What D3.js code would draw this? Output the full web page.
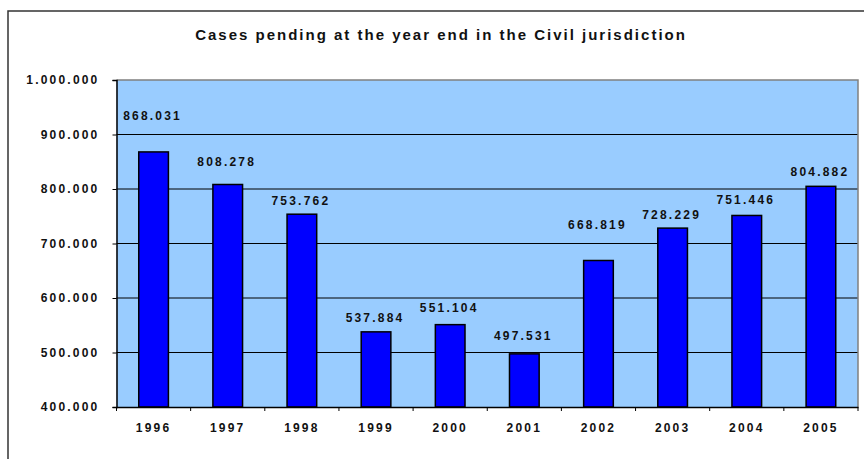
<!DOCTYPE html>
<html>
<head>
<meta charset="utf-8">
<script src="https://cdn.jsdelivr.net/npm/d3@7"></script>
<style>
  body { margin: 0; background: #fff; }
  svg { display: block; font-family: "Liberation Sans", Arial, sans-serif; font-weight: bold; }
</style>
</head>
<body>
<svg width="864" height="459"></svg>
<script>
var title = "Cases pending at the year end in the Civil jurisdiction";
var years = ["1996", "1997", "1998", "1999", "2000", "2001", "2002", "2003", "2004", "2005"];
var pending = [868031, 808278, 753762, 537884, 551104, 497531, 668819, 728229, 751446, 804882];
var yTicks = [400000, 500000, 600000, 700000, 800000, 900000, 1000000];

var svg = d3.select("svg"),
    width = +svg.attr("width"),
    height = +svg.attr("height");

// plot area, in page pixels
var pL = 116.5, pR = 858, pT = 80, pB = 407;

// Excel had the value labels dragged around by hand; lift above bar top
var labelLift = [36, 23, 13, 14, 17, 18, 36, 13, 15.5, 14.5];

var fmt = function(v) { return d3.format(",")(v).replace(/,/g, "."); };

var x = d3.scaleBand().domain(years).range([pL, pR]).paddingInner(0.6).paddingOuter(0.3);
var y = d3.scaleLinear().domain([400000, 1000000]).range([pB, pT]);

// outer chart frame (runs off the page to the right and bottom)
svg.append("rect")
    .attr("x", 8).attr("y", 11)
    .attr("width", width).attr("height", height)
    .attr("fill", "none").attr("stroke", "#333").attr("stroke-width", 1.5);

svg.append("text")
    .attr("x", 441).attr("y", 40)
    .attr("text-anchor", "middle")
    .attr("font-size", 15)
    .attr("letter-spacing", 2)
    .attr("fill", "#111")
    .text(title);

svg.append("rect")
    .attr("x", pL).attr("y", pT)
    .attr("width", pR - pL).attr("height", pB - pT)
    .attr("fill", "#99ccff");

svg.append("g")
  .selectAll("line")
  .data(yTicks.slice(1, -1))
  .enter().append("line")
    .attr("x1", pL).attr("x2", pR)
    .attr("y1", function(d) { return y(d); })
    .attr("y2", function(d) { return y(d); })
    .attr("stroke", "#000").attr("stroke-width", 1);

// gray top/right border of the plot area
svg.append("path")
    .attr("d", "M" + pL + "," + pT + "H" + pR + "V" + pB)
    .attr("fill", "none").attr("stroke", "#808080").attr("stroke-width", 1.5);

svg.append("g")
  .selectAll("rect")
  .data(pending)
  .enter().append("rect")
    .attr("x", function(d, i) { return x(years[i]); })
    .attr("y", function(d) { return y(d); })
    .attr("width", x.bandwidth())
    .attr("height", function(d) { return pB - y(d); })
    .attr("fill", "#0000ff")
    .attr("stroke", "#000").attr("stroke-width", 1.5);

svg.append("g")
  .selectAll("text")
  .data(pending)
  .enter().append("text")
    .attr("x", function(d, i) { return x(years[i]) + x.bandwidth() / 2 - 1; })
    .attr("y", function(d, i) { return y(d) - labelLift[i]; })
    .attr("dy", "0.35em")
    .attr("text-anchor", "middle")
    .attr("font-size", 12)
    .attr("letter-spacing", 2.2)
    .attr("fill", "#111")
    .text(fmt);

// y axis
var yAxis = svg.append("g")
    .attr("transform", "translate(" + pL + ",0)")
    .call(d3.axisLeft(y).tickValues(yTicks).tickFormat(fmt).tickSize(4).tickPadding(13));
yAxis.select(".domain").attr("stroke", "#000").attr("stroke-width", 1.5);
yAxis.selectAll(".tick line").attr("stroke", "#000");
yAxis.selectAll("text")
    .attr("font-size", 12).attr("letter-spacing", 2.2)
    .attr("font-family", "Liberation Sans, Arial, sans-serif")
    .attr("font-weight", "bold").attr("fill", "#111");

// x axis: ticks sit between categories
var xAxis = svg.append("g")
    .attr("transform", "translate(0," + pB + ")")
    .call(d3.axisBottom(x).tickSize(0).tickPadding(16));
xAxis.select(".domain").attr("stroke", "#000").attr("stroke-width", 1.5);
xAxis.selectAll("text")
    .attr("font-size", 12).attr("letter-spacing", 2.2)
    .attr("font-family", "Liberation Sans, Arial, sans-serif")
    .attr("font-weight", "bold").attr("fill", "#111");
xAxis.append("g")
  .selectAll("line")
  .data(d3.range(years.length + 1))
  .enter().append("line")
    .attr("x1", function(i) { return pL + i * x.step(); })
    .attr("x2", function(i) { return pL + i * x.step(); })
    .attr("y1", 0).attr("y2", 4)
    .attr("stroke", "#000");
</script>
</body>
</html>
